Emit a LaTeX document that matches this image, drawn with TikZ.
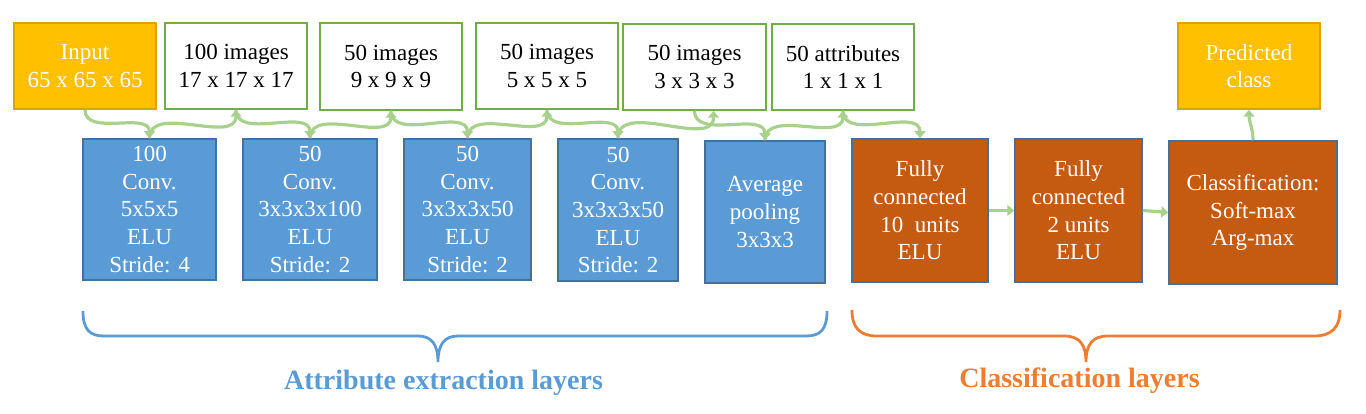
\documentclass[tikz,border=0pt]{standalone}
\usepackage{fontspec}
\setmainfont{Liberation Serif}
\usetikzlibrary{arrows.meta,calc}
\definecolor{yelF}{HTML}{FFC000}
\definecolor{yelD}{HTML}{D9A300}
\definecolor{bluF}{HTML}{5B9BD5}
\definecolor{bluD}{HTML}{41719C}
\definecolor{brnF}{HTML}{C55A11}
\definecolor{grnB}{HTML}{70AD47}
\definecolor{grnA}{HTML}{A9D18E}
\definecolor{orgB}{HTML}{ED7D31}
\tikzset{
  boxbase/.style={rectangle, inner sep=0pt, align=center, line width=1.5pt,
    font=\fontsize{23}{27.7}\selectfont},
  yelbox/.style={boxbase, fill=yelF, draw=yelD, text=white},
  grnbox/.style={boxbase, fill=white, draw=grnB, text=black},
  blubox/.style={boxbase, fill=bluF, draw=bluD, text=white},
  brnbox/.style={boxbase, fill=brnF, draw=bluD, text=white},
  conn/.style={draw=grnA, line width=3.2pt, -{Triangle[length=7pt,width=11pt]}},
  bracelineB/.style={draw=bluF, line width=2.8pt},
  bracelineO/.style={draw=orgB, line width=2.8pt},
  grouplabel/.style={font=\fontsize{28}{33}\selectfont\bfseries, inner sep=0pt, anchor=base}
}
\begin{document}
\begin{tikzpicture}[x=1pt,y=-1pt]
\useasboundingbox (0,0) rectangle (1366,414);
% top row
\node[yelbox, minimum width=142pt, minimum height=86pt] (inp) at (85,66) {Input\\65 x 65 x 65};
\node[grnbox, minimum width=142pt, minimum height=86pt] (im1) at (236,66) {100 images\\17 x 17 x 17};
\node[grnbox, minimum width=142pt, minimum height=87pt] (im2) at (391,66.5) {50 images\\9 x 9 x 9};
\node[grnbox, minimum width=142pt, minimum height=86pt] (im3) at (547,66) {50 images\\5 x 5 x 5};
\node[grnbox, minimum width=143pt, minimum height=86pt] (im4) at (694.5,67) {50 images\\3 x 3 x 3};
\node[grnbox, minimum width=142pt, minimum height=86pt] (att) at (843,67) {50 attributes\\1 x 1 x 1};
\node[yelbox, minimum width=142pt, minimum height=86pt] (pred) at (1249,66) {Predicted\\class};
% bottom row
\node[blubox, minimum width=133pt, minimum height=141pt] (c1) at (149.5,209.5) {100\\Conv.\\5x5x5\\ELU\\Stride: 4};
\node[blubox, minimum width=134pt, minimum height=141pt] (c2) at (310,209.5) {50\\Conv.\\3x3x3x100\\ELU\\Stride: 2};
\node[blubox, minimum width=127pt, minimum height=141pt] (c3) at (467.5,209.5) {50\\Conv.\\3x3x3x50\\ELU\\Stride: 2};
\node[blubox, minimum width=120pt, minimum height=142pt] (c4) at (618,210) {50\\Conv.\\3x3x3x50\\ELU\\Stride: 2};
\node[blubox, minimum width=120pt, minimum height=142pt] (avg) at (765,212) {Average\\pooling\\3x3x3};
\node[brnbox, minimum width=136pt, minimum height=143pt] (fc1) at (920,210.5) {Fully\\connected\\10\ \ units\\ELU};
\node[brnbox, minimum width=127pt, minimum height=143pt] (fc2) at (1078.5,210.5) {Fully\\connected\\2 units\\ELU};
\node[brnbox, minimum width=168pt, minimum height=143pt] (cls) at (1253,212.5) {Classification:\\Soft-max\\Arg-max};
% connectors
\draw[conn] (inp.south) to[out=-90,in=90] (c1.north);
\draw[conn] (c1.north) to[out=90,in=-90] (im1.south);
\draw[conn] (im1.south) to[out=-90,in=90] (c2.north);
\draw[conn] (c2.north) to[out=90,in=-90] (im2.south);
\draw[conn] (im2.south) to[out=-90,in=90] (c3.north);
\draw[conn] (c3.north) to[out=90,in=-90] (im3.south);
\draw[conn] (im3.south) to[out=-90,in=90] (c4.north);
\draw[conn] (c4.north) to[out=90,in=-90] ([xshift=19pt]im4.south);
\draw[conn] (im4.south) to[out=-90,in=90] (avg.north);
\draw[conn] (avg.north) to[out=90,in=-90] (att.south);
\draw[conn] (att.south) to[out=-90,in=90] (fc1.north);
\draw[conn] (fc1.east) -- (fc2.west);
\draw[conn] (fc2.east) -- (cls.west);
\draw[conn] (cls.north) to[out=90,in=-90] (pred.south);
% braces
\draw[bracelineB] (83,311) .. controls (83,330) and (90,336) .. (104,336) -- (418,336)
  .. controls (432,336) and (438,345) .. (438,362)
  .. controls (438,345) and (444,336) .. (458,336) -- (806,336)
  .. controls (820,336) and (827,330) .. (827,311);
\draw[bracelineO] (852,310) .. controls (852,328) and (860,336) .. (877,336) -- (1064,336)
  .. controls (1080,336) and (1086,345) .. (1086,362)
  .. controls (1086,345) and (1092,336) .. (1108,336) -- (1314,336)
  .. controls (1331,336) and (1340,328) .. (1340,310);
\node[grouplabel, text=bluF] (lblA) at (443.5,389) {Attribute extraction layers};
\node[grouplabel, text=orgB] (lblC) at (1079.5,387) {Classification layers};
\end{tikzpicture}
\end{document}
